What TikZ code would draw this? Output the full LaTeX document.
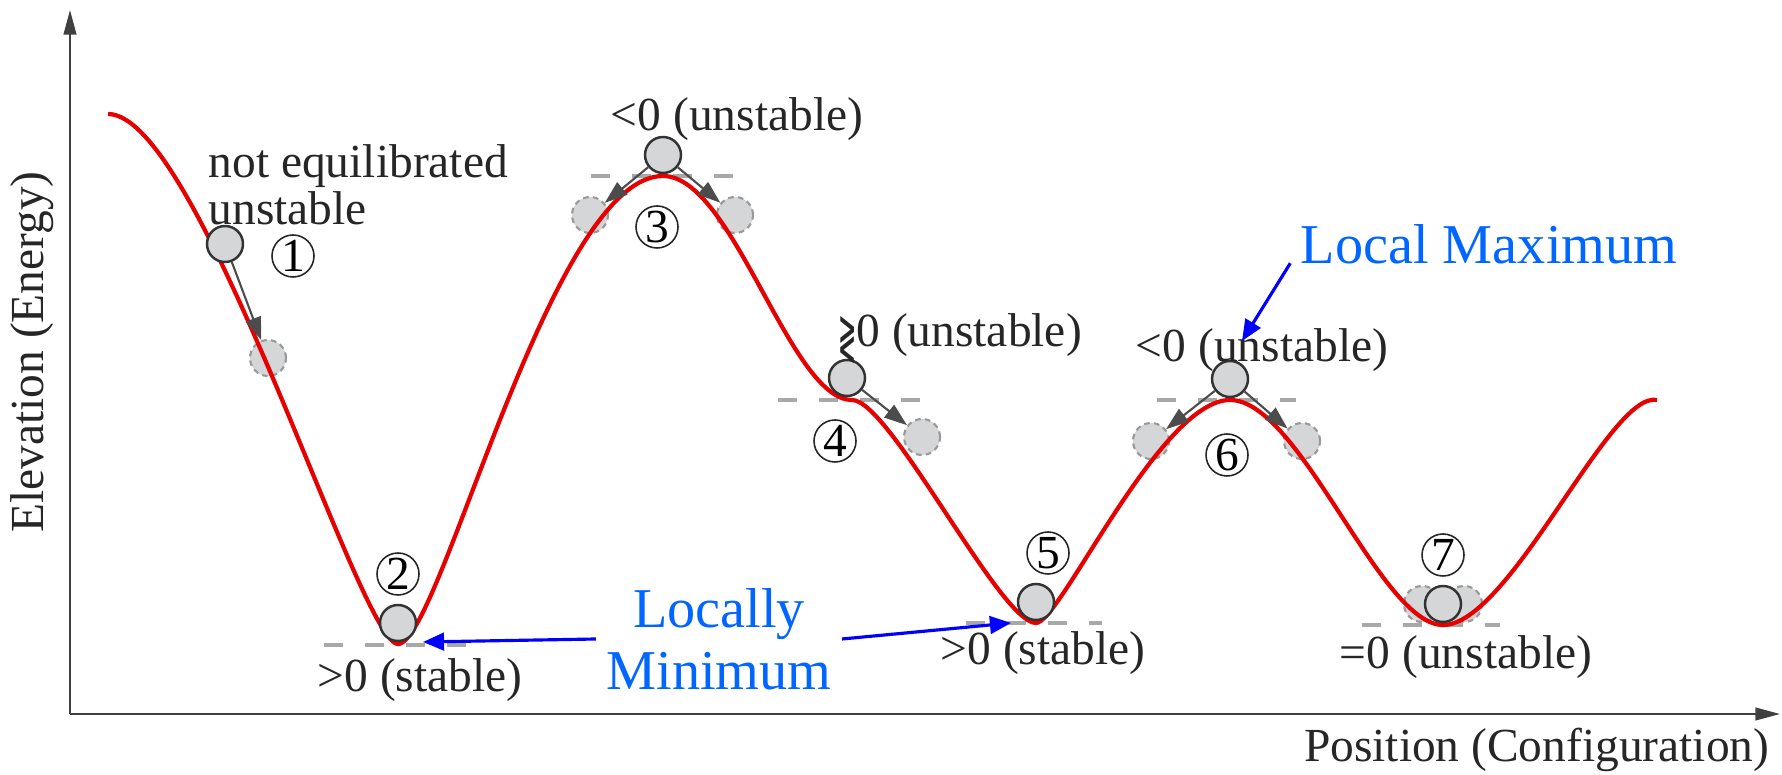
\documentclass[tikz,border=0pt]{standalone}
\usepackage{amsmath,amssymb}
\usepackage{graphicx}
\usepackage{fontspec}
\setmainfont{Liberation Serif}
\newfontfamily\symbolfont{DejaVu Sans}
\usepackage{xcolor}
\usetikzlibrary{arrows.meta}

\definecolor{ballgray}{HTML}{D4D6D8}
\definecolor{curvered}{HTML}{E60000}
\definecolor{levelgray}{HTML}{A8A8A8}
\definecolor{labelblue}{HTML}{0066FF}

% tall stacked > over <
\newcommand{\gtrlessmark}{\raisebox{-5pt}[0pt][0pt]{\resizebox*{5.2pt}{13.5pt}{\raisebox{\depth}{\symbolfont ≷}}}}

\begin{document}
\begin{tikzpicture}[
  ball/.style={circle,draw=black!80,line width=0.7pt,fill=ballgray,minimum size=0.36cm,inner sep=0pt},
  ghost/.style={circle,draw=black!40,dash pattern=on 1.6pt off 1.2pt,line width=0.6pt,fill=ballgray,minimum size=0.36cm,inner sep=0pt},
  num/.style={circle,draw=black!85,line width=0.45pt,minimum size=0.42cm,inner sep=0pt,font=\fontsize{13.5}{14}\selectfont},
  level/.style={levelgray,line width=1.3pt,dash pattern=on 5.4pt off 6.3pt},
  roll/.style={black!70,line width=0.6pt,-{Triangle[length=6.5pt,width=4.5pt]}},
  axis/.style={black!75,line width=0.6pt,-{Triangle[length=7pt,width=3.6pt]}},
  note/.style={black!85,inner sep=0pt,font=\fontsize{13.5}{11.5}\selectfont},
  bluenote/.style={labelblue,inner sep=0pt,outer sep=3pt,font=\fontsize{16}{17.6}\selectfont},
  pointer/.style={blue,line width=0.9pt,-{Triangle[length=6pt,width=5pt]}}
]
  \useasboundingbox (0,0) rectangle (17.82,7.74);
  % axes
  \coordinate (O) at (0.70,0.60);
  \coordinate (Y) at (0.70,7.64);
  \coordinate (X) at (17.80,0.60);
  \draw[axis] (O)--(Y);
  \draw[axis] (O)--(X);
  \node[note,rotate=90] (YL) at (0.32,4.22) {Elevation (Energy)};
  \node[note,anchor=east] (XL) at (17.70,0.24) {Position (Configuration)};

  % levels of the rest points
  \draw[level] (3.24,1.29)--(4.66,1.29);
  \draw[level] (5.91,5.98)--(7.33,5.98);
  \draw[level] (7.78,3.74)--(9.21,3.74);
  \draw[level] (9.66,1.51)--(11.02,1.51);
  \draw[level] (11.57,3.74)--(12.96,3.74);
  \draw[level] (13.62,1.49)--(15.00,1.49);

  % displaced positions
  \node[ghost] (G1) at (2.68,4.16) {};
  \node[ghost] (G3L) at (5.90,5.59) {};
  \node[ghost] (G3R) at (7.35,5.59) {};
  \node[ghost] (G4) at (9.22,3.37) {};
  \node[ghost] (G6L) at (11.51,3.33) {};
  \node[ghost] (G6R) at (13.02,3.33) {};
  \node[ghost] (G7L) at (14.22,1.70) {};
  \node[ghost] (G7R) at (14.64,1.70) {};

  % energy landscape
  \coordinate (S) at (1.08,6.60);
  \coordinate (M2) at (3.98,1.30);
  \coordinate (M3) at (6.63,5.98);
  \coordinate (M4) at (8.52,3.74);
  \coordinate (M5) at (10.36,1.51);
  \coordinate (M6) at (12.30,3.74);
  \coordinate (M7) at (14.43,1.49);
  \coordinate (E) at (16.57,3.74);
  \draw[curvered,line width=1.2pt] (S)
    .. controls (2.00,6.60) and (3.60,1.30) .. (M2)
    .. controls (4.40,1.30) and (5.50,5.98) .. (M3)
    .. controls (7.33,5.98) and (7.90,3.74) .. (M4)
    .. controls (8.90,3.74) and (10.00,1.51) .. (M5)
    .. controls (10.60,1.51) and (11.60,3.74) .. (M6)
    .. controls (13.00,3.74) and (13.80,1.49) .. (M7)
    .. controls (15.10,1.49) and (16.10,3.84) .. (E);

  % balls
  \node[ball] (B1) at (2.25,5.30) {};
  \node[ball] (B2) at (3.98,1.51) {};
  \node[ball] (B3) at (6.63,6.19) {};
  \node[ball] (B4) at (8.47,3.96) {};
  \node[ball] (B5) at (10.36,1.72) {};
  \node[ball] (B6) at (12.30,3.95) {};
  \node[ball] (B7) at (14.43,1.70) {};
  \draw[roll] (B1)--(G1);
  \draw[roll] (B3)--(G3L);
  \draw[roll] (B3)--(G3R);
  \draw[roll] (B4)--(G4);
  \draw[roll] (B6)--(G6L);
  \draw[roll] (B6)--(G6R);

  % numbers
  \node[num] (N1) at (2.93,5.18) {1};
  \node[num] (N2) at (3.98,2.00) {2};
  \node[num] (N3) at (6.57,5.47) {3};
  \node[num] (N4) at (8.35,3.33) {4};
  \node[num] (N5) at (10.48,2.21) {5};
  \node[num] (N6) at (12.27,3.19) {6};
  \node[num] (N7) at (14.43,2.19) {7};

  % second variation of the energy
  \node[note,anchor=west,align=left] (T1) at (2.08,5.89) {not equilibrated\\unstable};
  \node[note] (T2) at (4.20,0.94) {>0 (stable)};
  \node[note] (T3) at (7.37,6.55) {<0 (unstable)};
  \node[note] (T4) at (9.60,4.39) {\gtrlessmark0 (unstable)};
  \node[note] (T5) at (10.43,1.21) {>0 (stable)};
  \node[note] (T6) at (12.62,4.24) {<0 (unstable)};
  \node[note] (T7) at (14.66,1.17) {=0 (unstable)};

  % annotations
  \node[bluenote] (LMax) at (14.89,5.30) {Local Maximum};
  \coordinate (LMaxTip) at (12.42,4.33);
  \draw[pointer] (LMax.base west)--(LMaxTip);
  \node[bluenote,align=center] (LMin) at (7.19,1.35) {Locally\\Minimum};
  \coordinate (LMinTipA) at (4.23,1.32);
  \coordinate (LMinTipB) at (10.11,1.51);
  \draw[pointer] (LMin.west)--(LMinTipA);
  \draw[pointer] (LMin.east)--(LMinTipB);
\end{tikzpicture}
\end{document}
